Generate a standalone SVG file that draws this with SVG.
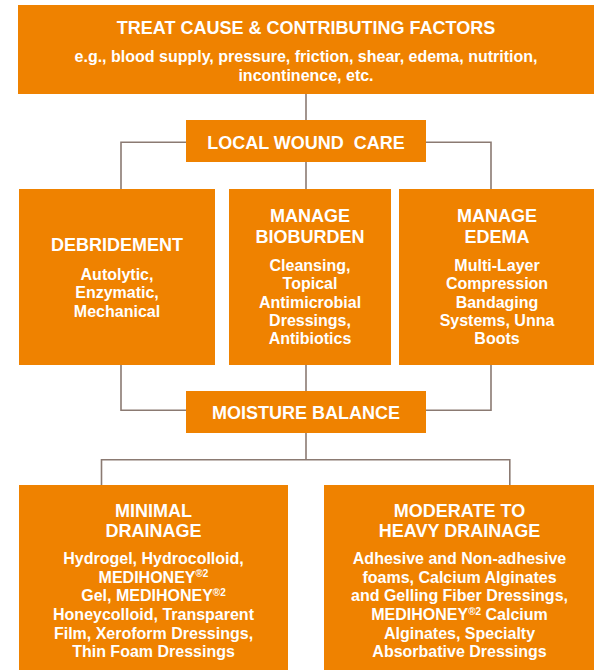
<svg xmlns="http://www.w3.org/2000/svg" width="594" height="670" viewBox="0 0 594 670">
<defs>
<style>
.box{fill:#EF8200;}
.t{font-family:"Liberation Sans",Arial,sans-serif;font-weight:bold;fill:#FFFFFF;text-anchor:middle;}
.h{font-size:18px;}
.b{font-size:16px;}
.sup{font-size:10px;}
.c{fill:none;stroke:#8B7A72;stroke-width:1.6;}
</style>
</defs>
<rect width="594" height="670" fill="#FFFFFF"/>
<g id="connectors">
<path class="c" d="M306 94 V120"/>
<path class="c" d="M186 142.3 H121 V189"/>
<path class="c" d="M426 142.3 H491 V189"/>
<path class="c" d="M306 162 V189"/>
<path class="c" d="M121 365 V410.3 H186"/>
<path class="c" d="M491 365 V410.3 H426"/>
<path class="c" d="M306 365 V391"/>
<path class="c" d="M306 433 V459.8"/>
<path class="c" d="M101.5 485 V459.8 H509.8 V485"/>
</g>
<g id="treat-cause">
<rect class="box" x="18" y="5" width="577" height="89"/>
<text class="t h" x="306" y="34">TREAT CAUSE &amp; CONTRIBUTING FACTORS</text>
<text class="t b" x="306" y="62">e.g., blood supply, pressure, friction, shear, edema, nutrition,</text>
<text class="t b" x="306" y="80.5">incontinence, etc.</text>
</g>
<g id="local-wound-care">
<rect class="box" x="186" y="120" width="240" height="42"/>
<text class="t h" x="306" y="148.5" style="white-space:pre">LOCAL WOUND  CARE</text>
</g>
<g id="debridement">
<rect class="box" x="19" y="189" width="196" height="176"/>
<text class="t h" x="117" y="251">DEBRIDEMENT</text>
<text class="t b" x="117" y="279.5">Autolytic,</text>
<text class="t b" x="117" y="298">Enzymatic,</text>
<text class="t b" x="117" y="316.5">Mechanical</text>
</g>
<g id="manage-bioburden">
<rect class="box" x="229" y="189" width="162" height="176"/>
<text class="t h" x="310" y="221.7">MANAGE</text>
<text class="t h" x="310" y="242.7">BIOBURDEN</text>
<text class="t b" x="310" y="270.7">Cleansing,</text>
<text class="t b" x="310" y="289">Topical</text>
<text class="t b" x="310" y="307.5">Antimicrobial</text>
<text class="t b" x="310" y="326">Dressings,</text>
<text class="t b" x="310" y="344.3">Antibiotics</text>
</g>
<g id="manage-edema">
<rect class="box" x="399" y="189" width="196" height="176"/>
<text class="t h" x="497" y="221.7">MANAGE</text>
<text class="t h" x="497" y="242.7">EDEMA</text>
<text class="t b" x="497" y="270.7">Multi-Layer</text>
<text class="t b" x="497" y="289">Compression</text>
<text class="t b" x="497" y="307.5">Bandaging</text>
<text class="t b" x="497" y="326">Systems, Unna</text>
<text class="t b" x="497" y="344.3">Boots</text>
</g>
<g id="moisture-balance">
<rect class="box" x="186" y="391" width="240" height="42"/>
<text class="t h" x="306" y="419">MOISTURE BALANCE</text>
</g>
<g id="minimal-drainage">
<rect class="box" x="19" y="485" width="269" height="190"/>
<text class="t h" x="153.5" y="516.7">MINIMAL</text>
<text class="t h" x="153.5" y="537.3">DRAINAGE</text>
<text class="t b" x="153.5" y="564">Hydrogel, Hydrocolloid,</text>
<text class="t b" x="153.5" y="582.7">MEDIHONEY<tspan class="sup" dy="-5.5">®2</tspan></text>
<text class="t b" x="153.5" y="601.3">Gel, MEDIHONEY<tspan class="sup" dy="-5.5">®2</tspan></text>
<text class="t b" x="153.5" y="620">Honeycolloid, Transparent</text>
<text class="t b" x="153.5" y="638.5">Film, Xeroform Dressings,</text>
<text class="t b" x="153.5" y="657.2">Thin Foam Dressings</text>
</g>
<g id="moderate-heavy-drainage">
<rect class="box" x="324" y="485" width="271" height="190"/>
<text class="t h" x="459.5" y="516.7">MODERATE TO</text>
<text class="t h" x="459.5" y="537.3">HEAVY DRAINAGE</text>
<text class="t b" x="459.5" y="564">Adhesive and Non-adhesive</text>
<text class="t b" x="459.5" y="582.7">foams, Calcium Alginates</text>
<text class="t b" x="459.5" y="601.3">and Gelling Fiber Dressings,</text>
<text class="t b" x="459.5" y="620">MEDIHONEY<tspan class="sup" dy="-5.5">®2</tspan><tspan dy="5.5"> Calcium</tspan></text>
<text class="t b" x="459.5" y="638.5">Alginates, Specialty</text>
<text class="t b" x="459.5" y="657.2">Absorbative Dressings</text>
</g>
</svg>
